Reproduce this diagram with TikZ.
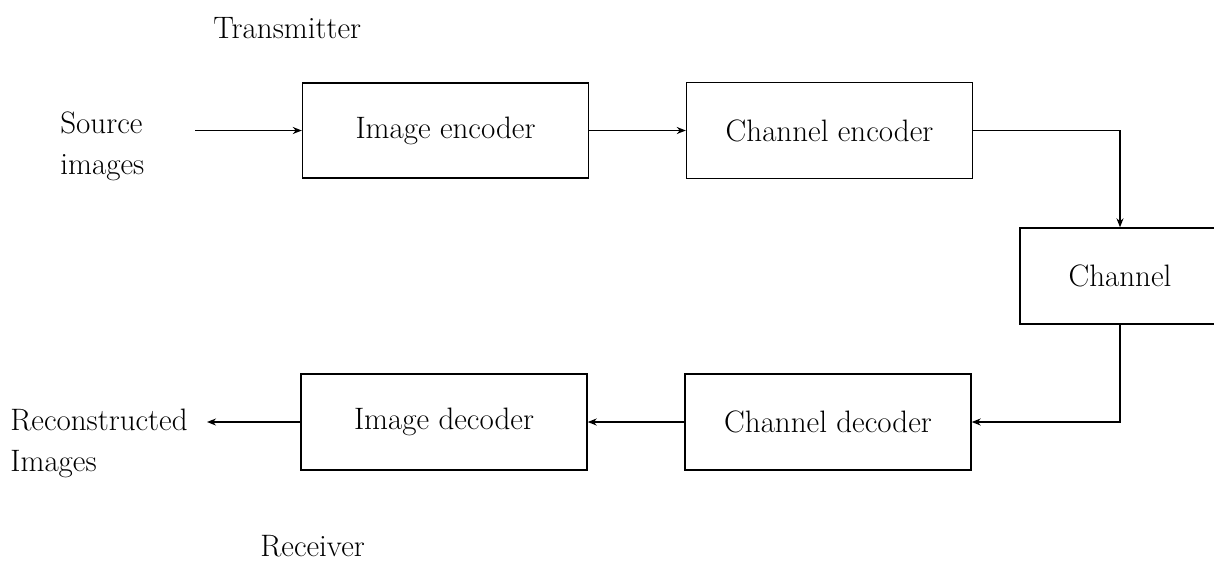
\documentclass[tikz,border=0pt]{standalone}
\usetikzlibrary{arrows.meta}
\begin{document}
\begin{tikzpicture}[x=0.5pt,y=-0.5pt,
  blk/.style={draw,line width=0.7pt,inner sep=0pt,minimum width=143pt,minimum height=48pt},
  lbl/.style={inner sep=0pt,align=left},
  conn/.style={line width=0.7pt,-{Stealth[length=4.5pt,width=3.5pt]}},
  font=\fontsize{15.5}{20.5}\selectfont]
\useasboundingbox (0,0) rectangle (1214,574);
\node[blk,minimum height=47.5pt] (ie) at (445.5,130.5) {Image encoder};
\node[blk] (ce) at (829.5,130.5) {Channel encoder};
\node[blk,minimum width=100pt] (ch) at (1120,276) {Channel};
\node[blk] (id) at (444,422) {Image decoder};
\node[blk] (cd) at (828,422) {Channel decoder};
\node[lbl,anchor=west] (tx) at (213,28) {Transmitter};
\node[lbl,anchor=west] (rx) at (260,546) {Receiver};
\node[lbl,anchor=west] (src) at (60,146) {Source\\images};
\node[lbl,anchor=west] (rec) at (10,443) {Reconstructed\\Images};
\coordinate (s0) at (195,130.5);
\coordinate (r0) at (207,422);
\draw[conn] (s0) -- (ie.west);
\draw[conn] (ie.east) -- (ce.west);
\draw[conn] (ce.east) -| (ch.north);
\draw[conn] (ch.south) |- (cd.east);
\draw[conn] (cd.west) -- (id.east);
\draw[conn] (id.west) -- (r0);
\end{tikzpicture}
\end{document}
